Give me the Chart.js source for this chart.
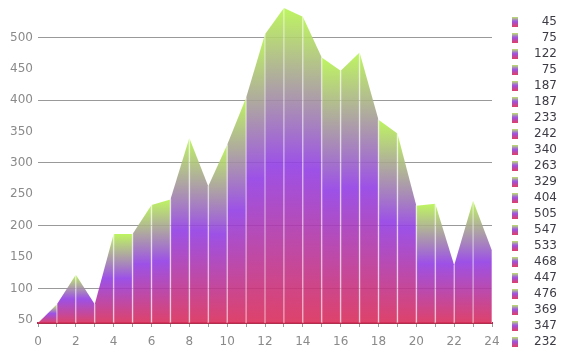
<!DOCTYPE html>
<html><head><meta charset="utf-8">
<script src="https://cdn.jsdelivr.net/npm/chart.js@4/dist/chart.umd.min.js"></script>
<style>html,body{margin:0;padding:0;background:#fff;overflow:hidden}</style>
</head><body>
<canvas id="c" width="571" height="355"></canvas>
<script>
// ---- data ----
const xValues = [0,1,2,3,4,5,6,7,8,9,10,11,12,13,14,15,16,17,18,19,20,21,22,23,24];
const values  = [45,75,122,75,187,187,233,242,340,263,329,404,505,547,533,468,447,476,369,347,232,235,137,240,160];
const yTickValues = [50,100,150,200,250,300,350,400,450,500];
const yGridValues = [100,200,300,400,500];
const xTickValues = [0,1,2,3,4,5,6,7,8,9,10,11,12,13,14,15,16,17,18,19,20,21,22,23,24];
const xLabelValues = [0,2,4,6,8,10,12,14,16,18,20,22,24];
const legendVisibleCount = 21;

const GREEN = 'rgba(183,244,80,0.9)';
const PURPLE = 'rgba(146,62,228,0.9)';
const RED = 'rgba(218,46,90,0.9)';

function segGradient(ctx) {
  const chart = ctx.chart;
  const area = chart.chartArea;
  if (!area) return PURPLE;
  const top = Math.min(ctx.p0.y, ctx.p1.y);
  const g = chart.ctx.createLinearGradient(0, top, 0, area.bottom);
  g.addColorStop(0, GREEN);
  g.addColorStop(0.5, PURPLE);
  g.addColorStop(1, RED);
  return g;
}

// legend icon
const icon = document.createElement('canvas');
icon.width = 6; icon.height = 10;
(function(){
  const c = icon.getContext('2d');
  const g = c.createLinearGradient(0,0,0,10);
  g.addColorStop(0,'rgb(190,245,95)');
  g.addColorStop(0.5,'rgb(155,80,230)');
  g.addColorStop(1,'rgb(222,65,105)');
  c.fillStyle = g; c.fillRect(0,0,6,10);
})();

const FONT = {family: "'DejaVu Sans', Verdana, sans-serif", size: 12};

const legendShift = {
  id: 'legendShift',
  afterLayout(chart) {
    const lg = chart.legend;
    if (lg) { lg.left += 16; lg.right += 16; lg.top += 4; lg.bottom += 4; }
  }
};

new Chart(document.getElementById('c'), {
  type: 'line',
  plugins: [legendShift],
  data: {
    datasets: [
      {
        type: 'bar',
        data: values.map((v,i)=>({x:xValues[i], y:v})),
        backgroundColor: 'rgba(255,255,255,0.38)',
        barThickness: 1,
        order: 0
      },
      {
        type: 'line',
        data: values.map((v,i)=>({x:xValues[i], y:v})),
        fill: 'start',
        borderWidth: 0,
        borderColor: 'rgba(0,0,0,0)',
        pointRadius: 0,
        tension: 0,
        backgroundColor: PURPLE,
        segment: { backgroundColor: segGradient },
        order: 1
      }
    ]
  },
  options: {
    responsive: false,
    animation: false,
    layout: { padding: { top: 0, right: 0, left: 0, bottom: 0 } },
    plugins: {
      tooltip: { enabled: false },
      legend: {
        position: 'right',
        align: 'center',
        labels: {
          usePointStyle: true,
          pointStyleWidth: 6,
          boxHeight: 10,
          padding: 4,
          textAlign: 'right',
          color: '#3c3c44',
          font: FONT,
          generateLabels: () => values.map((v,i)=>({
            text: String(v), pointStyle: icon, fillStyle: PURPLE,
            strokeStyle: 'transparent', lineWidth: 0, hidden: false,
            index: i, datasetIndex: 1, fontColor: '#3c3c44'
          })),
          filter: (item) => item.index < legendVisibleCount
        }
      }
    },
    scales: {
      x: {
        type: 'linear',
        offset: false,
        min: 0, max: 24,
        afterBuildTicks: (s) => { s.ticks = xTickValues.map(v=>({value:v})); },
        afterFit: (s) => { s.height = 32; s.paddingRight = 79; },
        ticks: {
          autoSkip: false, maxRotation: 0, color: '#8a8a8a', font: FONT, padding: 8,
          callback: (v) => xLabelValues.includes(v) ? String(v) : ''
        },
        grid: { drawOnChartArea: false, drawTicks: true, tickLength: 4, color: '#9a9a9a', offset: false },
        border: { display: true, color: 'rgba(165,25,60,0.9)', width: 2 }
      },
      y: {
        type: 'linear',
        min: 45, max: 547,
        afterBuildTicks: (s) => { s.ticks = yTickValues.map(v=>({value:v})); },
        afterFit: (s) => { s.width = 38; s.paddingTop = 8; s.paddingBottom = 0; },
        ticks: { color: '#8a8a8a', font: FONT, padding: 5 },
        grid: {
          drawTicks: false,
          color: (ctx) => (ctx.tick && yGridValues.includes(ctx.tick.value)) ? '#999999' : 'rgba(0,0,0,0)'
        },
        border: { display: false }
      }
    }
  }
});
</script>
</body></html>
